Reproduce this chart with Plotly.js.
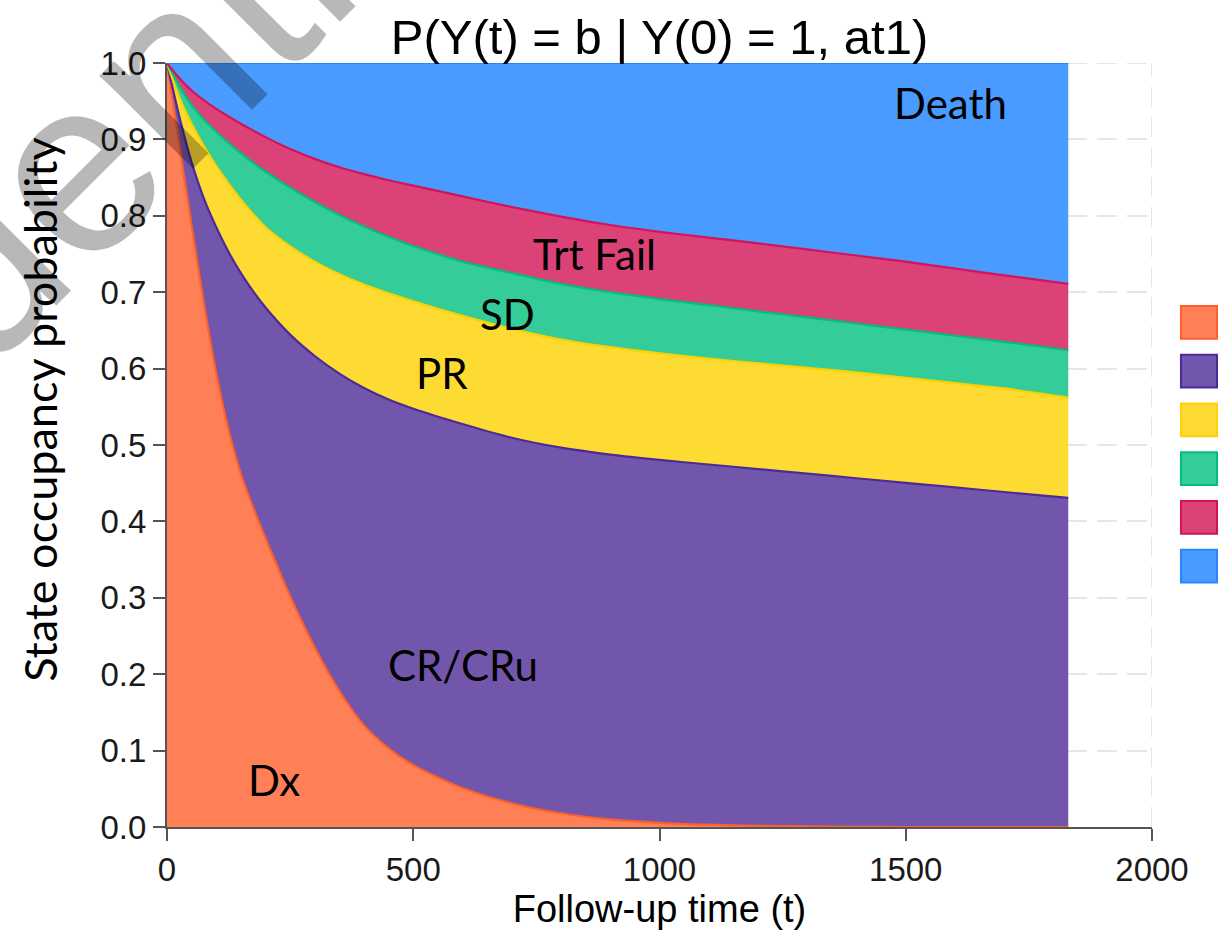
<!DOCTYPE html>
<html>
<head>
<meta charset="utf-8">
<script src="https://cdn.plot.ly/plotly-3.0.1.min.js"></script>
<style>html,body{margin:0;padding:0;background:#fff;}#chart{width:1226px;height:933px;}</style>
</head>
<body>
<div id="chart"></div>
<script>
// ---- data ----
const states = ['Dx', 'CR/CRu', 'PR', 'SD', 'Trt Fail', 'Death'];
const time   = [0, 25, 50, 75, 100, 125, 150, 175, 200, 250, 300, 350, 400, 450, 500, 600, 700, 800, 900, 1000, 1100, 1200, 1300, 1400, 1500, 1600, 1700, 1830];
const pDx    = [1, .893, .787, .685, .594, .520, .462, .418, .378, .302, .235, .178, .133, .103, .081, .051, .031, .018, .010, .0055, .003, .0015, .0007, .0003, 0, 0, 0, 0];
const pCR    = [0, .037, .083, .1375, .191, .2325, .263, .283, .302, .3425, .3815, .4155, .4415, .4565, .4665, .4765, .4785, .4785, .4775, .475, .4715, .467, .4618, .4562, .4505, .4445, .4385, .4307];
const pPR    = [0, .025, .050, .0685, .080, .0895, .096, .101, .105, .1155, .1235, .130, .1355, .139, .1405, .1415, .1425, .1415, .1405, .1395, .1385, .1385, .1385, .1385, .1375, .1365, .1355, .1313];
const pSD    = [0, .015, .025, .035, .045, .0535, .061, .0675, .073, .077, .078, .0775, .076, .074, .0725, .071, .073, .073, .072, .071, .070, .068, .066, .064, .063, .062, .061, .062];
const pTF    = [0, .010, .019, .025, .030, .0345, .0385, .042, .045, .0505, .0565, .0625, .0685, .074, .079, .0855, .0865, .088, .088, .088, .0885, .089, .089, .089, .089, .088, .087, .087];
const pDeath = [0, .020, .036, .049, .060, .070, .0795, .0885, .097, .1125, .1255, .1365, .1455, .1535, .1605, .1745, .1885, .201, .212, .221, .2285, .236, .244, .252, .260, .269, .278, .289];
const xTicks = [0, 500, 1000, 1500, 2000];
const yTicks = [0, .1, .2, .3, .4, .5, .6, .7, .8, .9, 1.0];

// ---- styles ----
const lineColors = ['rgb(255,95,40)', 'rgb(76,42,152)', 'rgb(254,210,0)', 'rgb(1,191,126)', 'rgb(212,19,88)', 'rgb(40,134,255)'];
const fillColors = ['rgb(255,127,86)', 'rgb(114,86,172)', 'rgb(254,219,50)', 'rgb(52,204,152)', 'rgb(219,66,119)', 'rgb(74,155,255)'];
const labelPos = [[217, 0.062], [600, 0.212], [558, 0.594], [692, 0.672], [867, 0.750], [1590, 0.948]];
const gridDash = '20px,10px';
const gridColor = '#e6e6e6';

const series = [pDx, pCR, pPR, pSD, pTF, pDeath];
const traces = series.map((vals, i) => ({
  type: 'scatter', mode: 'lines', x: time, y: vals, name: states[i],
  stackgroup: 'one', line: {color: lineColors[i], width: 2.2, shape: 'spline', smoothing: 0.7},
  fillcolor: fillColors[i], showlegend: false, hoverinfo: 'x+y+name'
}));

const labelFont = {family: 'Lato, "Open Sans", sans-serif', size: 42, color: '#000'};
const annotations = states.map((s, i) => ({
  text: s, x: labelPos[i][0], y: labelPos[i][1], xref: 'x', yref: 'y',
  showarrow: false, font: labelFont, xanchor: 'center', yanchor: 'middle'
}));
// y axis title (placed like the reference, which is not centred on the plot)
annotations.push({
  text: 'State occupancy probability', xref: 'paper', yref: 'paper', x: -0.129, y: 0.546,
  textangle: -90, showarrow: false, xanchor: 'center', yanchor: 'middle',
  font: {family: 'Lato, "Open Sans", sans-serif', size: 45, color: '#000'}
});
// watermark
annotations.push({
  text: 'Confidential', xref: 'paper', yref: 'paper', x: -0.193, y: 0.739,
  showarrow: false, textangle: -45, xanchor: 'center', yanchor: 'middle',
  font: {family: '"Liberation Sans", Arial, sans-serif', size: 250, color: 'rgba(0,0,0,0.28)'}
});

// legend swatches (their text lies beyond the right edge of the picture)
const shapes = states.map((s, i) => {
  const top = 0.682 - i * 0.0638;
  return {type: 'rect', xref: 'paper', yref: 'paper', x0: 1.0294, x1: 1.066, y0: top - 0.043, y1: top,
    fillcolor: fillColors[i], line: {color: lineColors[i], width: 2}, layer: 'above'};
});
// grid lines that fall on the range ends
shapes.push({type: 'line', xref: 'x', yref: 'paper', x0: 2000, x1: 2000, y0: 0, y1: 1, layer: 'below',
  line: {color: gridColor, width: 2, dash: gridDash}});
shapes.push({type: 'line', xref: 'paper', yref: 'y', x0: 0, x1: 1, y0: 1, y1: 1, layer: 'below',
  line: {color: gridColor, width: 2, dash: gridDash}});

const axisFont = {family: '"Liberation Sans", Arial, sans-serif', size: 33, color: '#1a1a1a'};
const layout = {
  width: 1226, height: 933,
  margin: {l: 167, r: 74, t: 63, b: 106, pad: 0},
  paper_bgcolor: '#fff', plot_bgcolor: '#fff',
  title: {text: 'P(Y(t) = b | Y(0) = 1, at1)', x: 0.5, xref: 'paper', y: 0.961, yref: 'container', yanchor: 'middle',
    font: {family: '"Liberation Sans", Arial, sans-serif', size: 49, color: '#000'}},
  xaxis: {
    range: [0, 2000], tickvals: xTicks, ticktext: xTicks.map(String),
    showline: true, linecolor: '#555', linewidth: 2, mirror: false,
    ticks: 'outside', ticklen: 12, tickwidth: 2, tickcolor: '#555',
    showgrid: true, gridcolor: gridColor, gridwidth: 2, griddash: gridDash, zeroline: false,
    tickfont: axisFont,
    title: {text: 'Follow-up time (t)', standoff: 8, font: {family: '"Liberation Sans", Arial, sans-serif', size: 38, color: '#000'}}
  },
  yaxis: {
    range: [0, 1], tickvals: yTicks, ticktext: yTicks.map(v => v.toFixed(1)),
    showline: true, linecolor: '#555', linewidth: 2,
    ticks: 'outside', ticklen: 12, tickwidth: 2, tickcolor: '#555',
    showgrid: true, gridcolor: gridColor, gridwidth: 2, griddash: gridDash, zeroline: false,
    tickfont: axisFont
  },
  annotations: annotations,
  shapes: shapes,
  showlegend: false
};

Plotly.newPlot('chart', traces, layout, {displayModeBar: false, staticPlot: true});
</script>
</body>
</html>
